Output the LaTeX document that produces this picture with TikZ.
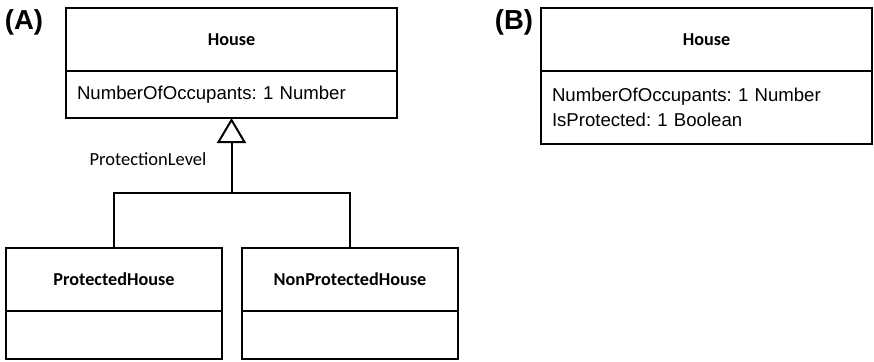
\documentclass[tikz,border=0pt]{standalone}
\usepackage{fontspec}
\setmainfont{Liberation Sans}
\newfontfamily\calibri{Carlito}
\usetikzlibrary{positioning,arrows.meta}
\frenchspacing

\begin{document}
\begin{tikzpicture}[
      x=1pt, y=-1pt,
      uml/.style={draw, line width=2pt, inner sep=0pt, outer sep=0pt},
      head/.style={uml, minimum height=63pt, font=\calibri\bfseries\fontsize{18.2}{22}\selectfont},
      attrs/.style={uml, inner xsep=11pt, align=left, font=\fontsize{18.6}{25}\selectfont},
      panel/.style={inner sep=0pt, font=\bfseries\fontsize{27.5}{30}\selectfont},
      gen/.style={line width=2pt, -{Triangle[open, length=25pt, width=29pt]}}
    ]
    \useasboundingbox (0,0) rectangle (874,361);
    \node[panel] (pa) at (24,22) {(A)};
    \node[panel] (pb) at (514,22) {(B)};
    % (A) class with its two subclasses
    \node[head, minimum width=331pt] (house) at (231.5,39.5) {House};
    \node[attrs, minimum width=331pt, text width=309pt, minimum height=47pt, below=0pt of house] (house-attr) {NumberOfOccupants: 1 Number};
    \foreach \x/\name/\txt in {114/ph/ProtectedHouse, 350/nph/NonProtectedHouse} {
      \node[head, minimum width=216pt] (\name) at (\x,279) {\txt};
      \node[attrs, minimum width=216pt, minimum height=48pt, below=0pt of \name] (\name-attr) {};
    }
    \coordinate (fork) at (231.5,193);
    \draw[line width=2pt] (ph.north) |- (fork) -| (nph.north);
    \draw[gen] (fork) -- (house-attr.south);
    \node[font=\calibri\fontsize{18.5}{22}\selectfont] (disc) at (148,159) {ProtectionLevel};
    % (B) single class with a flag
    \node[head, minimum width=331pt] (house2) at (706.5,39.5) {House};
    \node[attrs, minimum width=331pt, text width=309pt, minimum height=73pt, below=0pt of house2] (house2-attr) {NumberOfOccupants: 1 Number\\IsProtected: 1 Boolean};
  \end{tikzpicture}
\end{document}
